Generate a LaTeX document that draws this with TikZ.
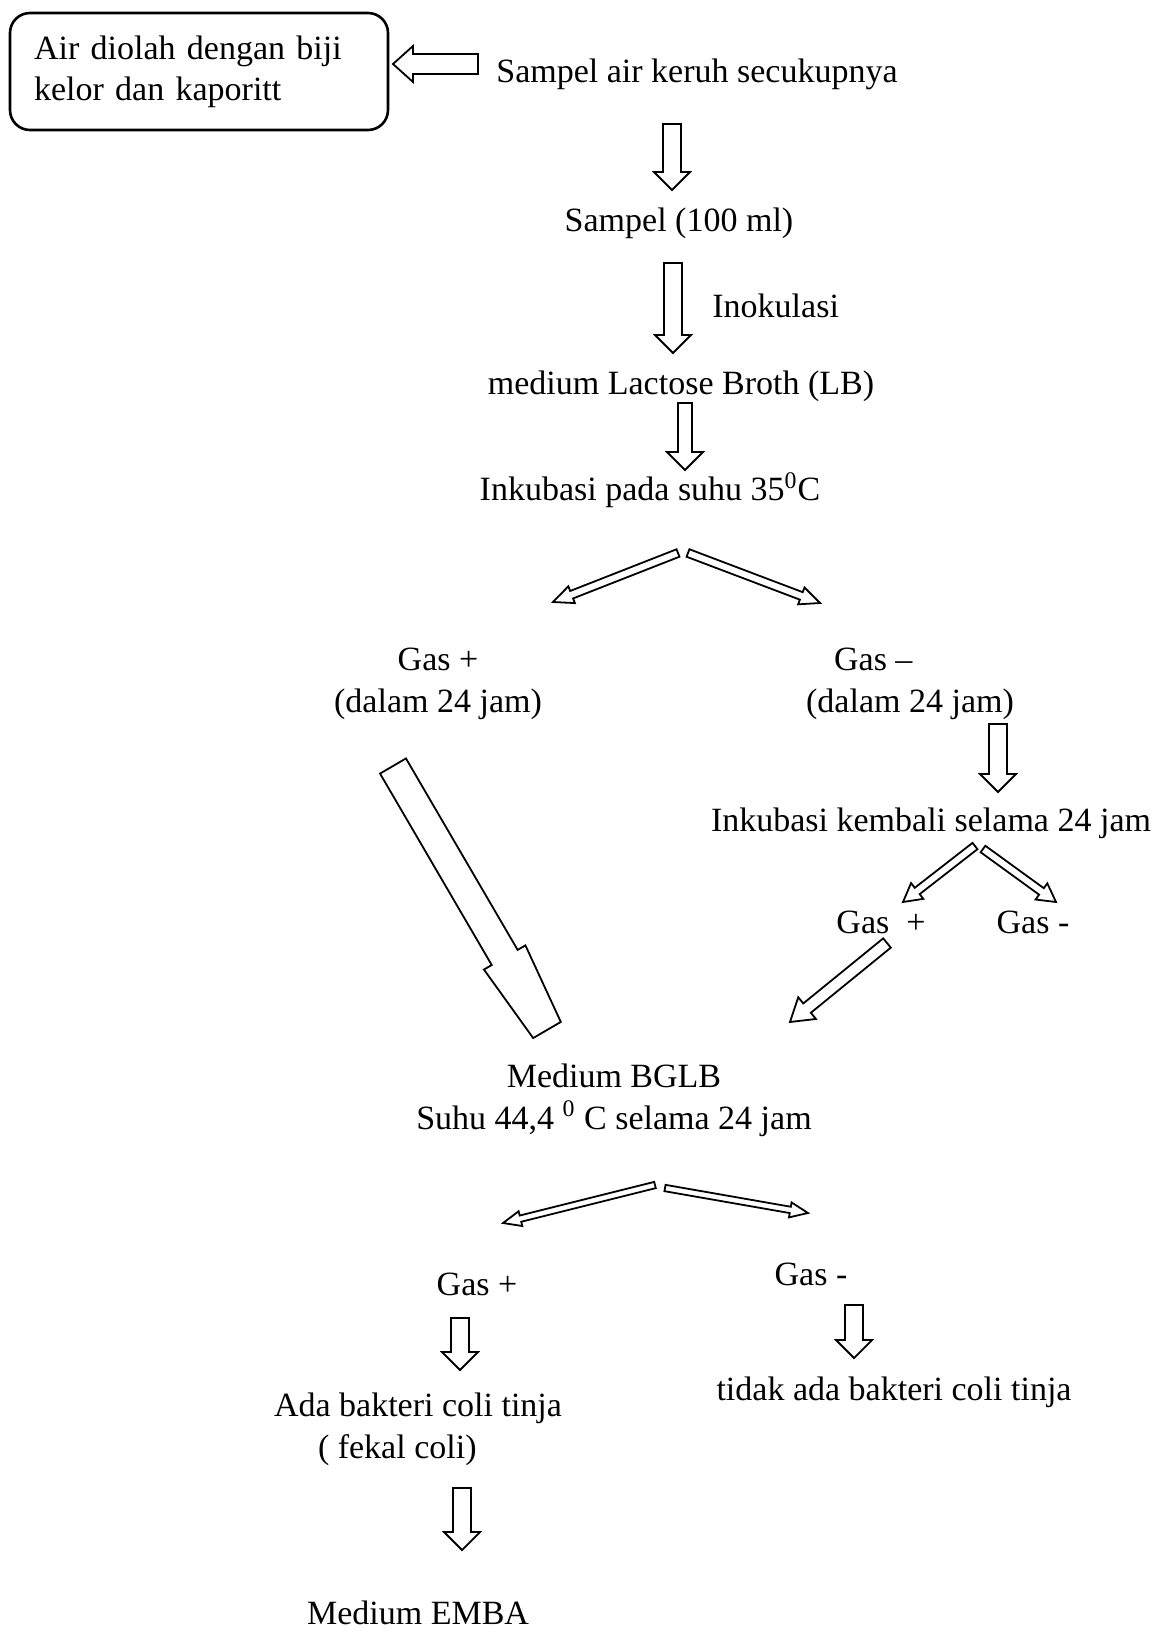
\documentclass[tikz,border=0pt]{standalone}
\usepackage{fontspec}
\setmainfont{Liberation Serif}
\usetikzlibrary{calc,positioning}

\tikzset{
  arr shaft/.store in=\arrshaft, arr head/.store in=\arrhead,
  arr len/.store in=\arrlen, arr tip/.store in=\arrtip,
  arr shaft=4.5pt, arr head=9pt, arr len=9pt, arr tip=0pt
}

\begin{document}
\begin{tikzpicture}[x=0.5pt, y=-0.5pt,
    txt/.style={inner sep=0pt, align=center, font=\fontsize{17}{21}\selectfont},
    olahbox/.style={draw, line width=1.3pt, rounded corners=10pt, align=left, text width=165pt, inner xsep=12pt, inner ysep=0pt, minimum width=189pt, minimum height=58.5pt, font=\fontsize{17}{20.5}\selectfont},
    hollow/.style={draw, line width=0.9pt, to path={
        ($(\tikztostart)!\arrshaft!90:(\tikztotarget)$)
        -- ($(\tikztotarget)!\arrlen!(\tikztostart)!\arrshaft!-90:(\tikztostart)$)
        -- ($(\tikztotarget)!\arrlen!(\tikztostart)!\arrhead!-90:(\tikztostart)$)
        -- ($(\tikztotarget)!\arrtip!-90:(\tikztostart)$)
        -- ($(\tikztotarget)!\arrtip!90:(\tikztostart)$)
        -- ($(\tikztotarget)!\arrlen!(\tikztostart)!\arrhead!90:(\tikztostart)$)
        -- ($(\tikztotarget)!\arrlen!(\tikztostart)!\arrshaft!90:(\tikztostart)$)
        -- ($(\tikztostart)!\arrshaft!-90:(\tikztotarget)$)
        -- cycle}},
    forkarr/.style={arr shaft=2pt, arr head=4.5pt, arr len=10pt},
    bigarr/.style={arr shaft=7.5pt, arr head=12pt, arr len=42pt, arr tip=8pt}
  ]
    \useasboundingbox (0,0) rectangle (1156,1634);

    % texts
    \node[olahbox] (olah) at (199,71.5) {Air diolah dengan biji\\kelor dan kaporitt};
    \node[txt] (sampel) at (697,74) {Sampel air keruh secukupnya};
    \node[txt] (sampel100) at (679,223) {Sampel (100 ml)};
    \node[txt, anchor=west] (inok) at (712,306) {Inokulasi};
    \node[txt] (lb) at (681,386) {medium Lactose Broth (LB)};
    \node[txt] (inkub) at (650,490) {Inkubasi pada suhu 35\textsuperscript{0}C};
    \node[txt] (gasplus) at (438,684) {Gas +\\(dalam 24 jam)};
    \node[txt, align=left] (gasmin) at (910,684) {\hspace*{14pt}Gas --\\(dalam 24 jam)};
    \node[txt] (inkub2) at (931,823) {Inkubasi kembali selama 24 jam};
    \node[txt] (gasplus2) at (881,922) {Gas\ \ +};
    \node[txt] (gasmin2) at (1033,922) {Gas -};
    \node[txt] (bglb) at (614,1100) {Medium BGLB\\Suhu 44,4 \textsuperscript{0} C selama 24 jam};
    \node[txt] (gasplus3) at (477,1284) {Gas +};
    \node[txt] (gasmin3) at (811,1274) {Gas -};
    \node[txt, align=left] (fekal) at (418,1429) {Ada bakteri coli tinja\\\hspace*{22pt}( fekal coli)};
    \node[txt] (tidak) at (894,1392) {tidak ada bakteri coli tinja};
    \node[txt] (emba) at (418,1613) {Medium EMBA};

    % arrow ends
    \coordinate (h1) at (478,64);   \coordinate (h2) at (393,64);
    \coordinate (k1) at (672,124);  \coordinate (k2) at (672,190);
    \coordinate (k3) at (673,263);  \coordinate (k4) at (673,353);
    \coordinate (k5) at (685,403);  \coordinate (k6) at (685,470);
    \coordinate (f0) at (678,553);  \coordinate (f1) at (553,602);
    \coordinate (f2) at (688,553);  \coordinate (f3) at (820,603);
    \coordinate (k7) at (998,724);  \coordinate (k8) at (998,792);
    \coordinate (m0) at (975,846);  \coordinate (m1) at (903,902);
    \coordinate (m2) at (983,849);  \coordinate (m3) at (1056,902);
    \coordinate (g0) at (887,943);  \coordinate (g1) at (790,1022);
    \coordinate (b0) at (393,766);  \coordinate (b1) at (547,1030);
    \coordinate (n0) at (655,1185); \coordinate (n1) at (503,1223);
    \coordinate (n2) at (665,1188); \coordinate (n3) at (808,1213);
    \coordinate (k9) at (460,1318); \coordinate (k10) at (460,1370);
    \coordinate (k11) at (854,1305); \coordinate (k12) at (854,1358);
    \coordinate (k13) at (462,1488); \coordinate (k14) at (462,1550);

    % arrows
    \draw[hollow, arr shaft=5pt, arr len=10pt] (h1) to (h2);
    \draw[hollow] (k1) to (k2);
    \draw[hollow] (k3) to (k4);
    \draw[hollow, arr shaft=3.5pt] (k5) to (k6);
    \draw[hollow, forkarr] (f0) to (f1);
    \draw[hollow, forkarr] (f2) to (f3);
    \draw[hollow] (k7) to (k8);
    \draw[hollow, forkarr, arr head=5pt, arr len=9pt] (m0) to (m1);
    \draw[hollow, forkarr, arr head=5pt, arr len=9pt] (m2) to (m3);
    \draw[hollow, arr shaft=3pt, arr head=7pt, arr len=11pt] (g0) to (g1);
    \draw[hollow, bigarr] (b0) to (b1);
    \draw[hollow, forkarr, arr shaft=1.6pt, arr head=3.8pt, arr len=9pt] (n0) to (n1);
    \draw[hollow, forkarr, arr shaft=1.6pt, arr head=3.8pt, arr len=9pt] (n2) to (n3);
    \draw[hollow] (k9) to (k10);
    \draw[hollow] (k11) to (k12);
    \draw[hollow] (k13) to (k14);
\end{tikzpicture}
\end{document}
